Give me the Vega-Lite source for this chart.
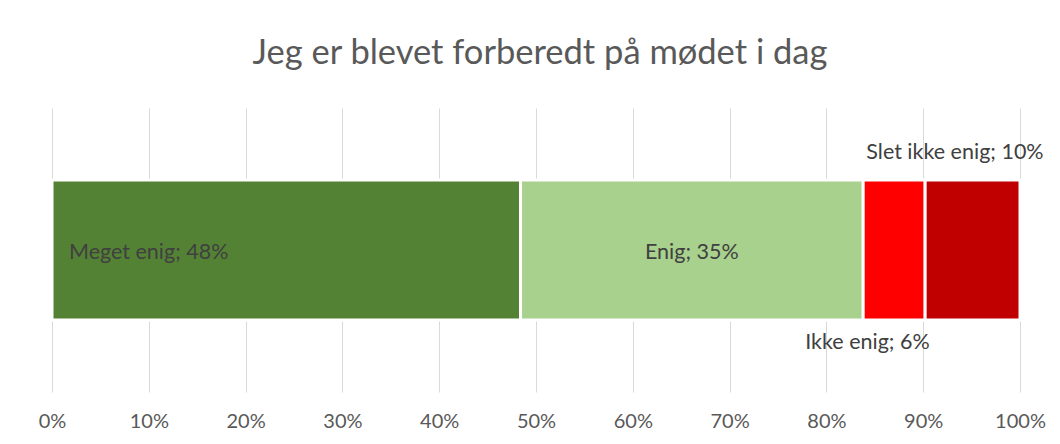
{
  "$schema": "https://vega.github.io/schema/vega-lite/v6.json",
  "autosize": {"type": "none"},
  "padding": {"left": 52, "top": 108, "right": 40, "bottom": 52},
  "width": 968,
  "height": 284,
  "background": "white",
  "title": {
    "text": "Jeg er blevet forberedt på mødet i dag",
    "anchor": "middle",
    "baseline": "alphabetic",
    "offset": 10,
    "dx": 4,
    "font": "Lato",
    "fontSize": 34.5,
    "fontWeight": "normal",
    "color": "#595959"
  },
  "data": {
    "values": [
      {"q": "Jeg er blevet forberedt på mødet i dag", "cat": "Meget enig", "v": 0.484, "ord": 1},
      {"q": "Jeg er blevet forberedt på mødet i dag", "cat": "Enig", "v": 0.354, "ord": 2},
      {"q": "Jeg er blevet forberedt på mødet i dag", "cat": "Ikke enig", "v": 0.064, "ord": 3},
      {"q": "Jeg er blevet forberedt på mødet i dag", "cat": "Slet ikke enig", "v": 0.098, "ord": 4}
    ]
  },
  "transform": [
    {"stack": "v", "groupby": ["q"], "sort": [{"field": "ord", "order": "ascending"}], "as": ["v0", "v1"]},
    {"calculate": "(datum.v0 + datum.v1) / 2", "as": "vmid"},
    {"calculate": "datum.cat + '; ' + format(datum.v, '.0%')", "as": "label"}
  ],
  "encoding": {
    "y": {"field": "q", "type": "nominal", "axis": null}
  },
  "layer": [
    {
      "mark": {"type": "bar", "height": 140, "stroke": "white", "strokeWidth": 3},
      "encoding": {
        "x": {
          "field": "v0", "type": "quantitative",
          "scale": {"domain": [0, 1], "nice": false, "zero": true},
          "axis": {
            "format": ".0%",
            "values": [0, 0.1, 0.2, 0.3, 0.4, 0.5, 0.6, 0.7, 0.8, 0.9, 1],
            "title": null,
            "domain": false,
            "ticks": false,
            "grid": true,
            "gridColor": "#d9d9d9",
            "gridWidth": 1,
            "labelFont": "Lato",
            "labelFontSize": 20,
            "labelColor": "#595959",
            "labelBaseline": "alphabetic",
            "labelPadding": 35,
            "labelFlush": false
          }
        },
        "x2": {"field": "v1"},
        "color": {
          "field": "cat", "type": "nominal",
          "scale": {
            "domain": ["Meget enig", "Enig", "Ikke enig", "Slet ikke enig"],
            "range": ["#548235", "#A9D18E", "#FF0000", "#C00000"]
          },
          "legend": null
        },
        "order": {"field": "ord"}
      }
    },
    {
      "transform": [{"filter": "datum.cat == 'Meget enig'"}],
      "mark": {"type": "text", "align": "left", "baseline": "alphabetic", "dx": 17, "dy": 8.5, "font": "Lato", "fontSize": 21.5, "color": "#404040"},
      "encoding": {
        "x": {"field": "v0", "type": "quantitative"},
        "text": {"field": "label"}
      }
    },
    {
      "transform": [{"filter": "datum.cat == 'Enig'"}],
      "mark": {"type": "text", "align": "center", "baseline": "alphabetic", "dy": 8.5, "font": "Lato", "fontSize": 21.5, "color": "#404040"},
      "encoding": {
        "x": {"field": "vmid", "type": "quantitative"},
        "text": {"field": "label"}
      }
    },
    {
      "transform": [{"filter": "datum.cat == 'Slet ikke enig'"}],
      "mark": {"type": "text", "align": "center", "baseline": "alphabetic", "dx": -17.6, "dy": -91.5, "font": "Lato", "fontSize": 21.5, "color": "#404040"},
      "encoding": {
        "x": {"field": "vmid", "type": "quantitative"},
        "text": {"field": "label"}
      }
    },
    {
      "transform": [{"filter": "datum.cat == 'Ikke enig'"}],
      "mark": {"type": "text", "align": "center", "baseline": "alphabetic", "dx": -26.7, "dy": 98.5, "font": "Lato", "fontSize": 21.5, "color": "#404040"},
      "encoding": {
        "x": {"field": "vmid", "type": "quantitative"},
        "text": {"field": "label"}
      }
    }
  ],
  "config": {
    "view": {"stroke": null}
  }
}
